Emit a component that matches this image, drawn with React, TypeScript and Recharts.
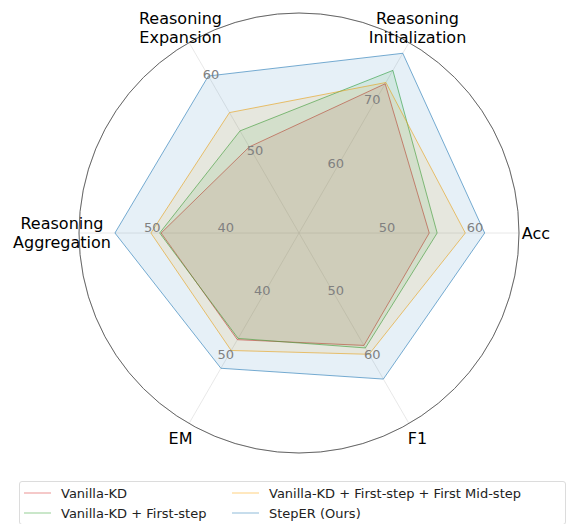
import { RadarChart, Radar, PolarGrid, PolarAngleAxis, PolarRadiusAxis } from 'recharts';

const categories = ['Acc', 'Reasoning\nInitialization', 'Reasoning\nExpansion', 'Reasoning\nAggregation', 'EM', 'F1'];
// each axis has its own range in the original figure
const axisMin = [40, 50, 40, 30, 30, 40];
const axisMax = [65, 80, 65, 60, 60, 70];
const axisTicks = [[50, 60], [60, 70], [50, 60], [40, 50], [40, 50], [50, 60]];

const vanillaKD = [54.8, 73.5, 51.3, 48.8, 46.8, 57.7];
const firstStep = [55.7, 75.6, 53.4, 49.0, 46.6, 58.1];
const firstMid = [58.9, 73.7, 55.8, 50.2, 48.5, 59.1];
const stepER = [61.1, 78.3, 60.6, 55.1, 51.3, 63.0];

const SERIES = [
  { key: 'kd', name: 'Vanilla-KD', values: vanillaKD, color: '#d62728' },
  { key: 'first', name: 'Vanilla-KD + First-step', values: firstStep, color: '#2ca02c' },
  { key: 'mid', name: 'Vanilla-KD + First-step + First Mid-step', values: firstMid, color: '#ffa500' },
  { key: 'steper', name: 'StepER (Ours)', values: stepER, color: '#1f77b4' },
];

const CX = 299;
const CY = 233;
const OUTER = 220;
const LABEL_R = 237;
const FONT = '"DejaVu Sans", sans-serif';

const norm = (v: number, i: number) => (v - axisMin[i]) / (axisMax[i] - axisMin[i]);

// numeric angle axis (index 0..5 over 0..360deg) so ticks and polygons share one scale
const data = categories.map((_, i) => {
  const row: Record<string, any> = { idx: i };
  SERIES.forEach(s => { row[s.key] = norm(s.values[i], i); });
  return row;
});

function AngleTick(props: any) {
  const { payload } = props;
  const index = Number(payload.value);
  const angle = payload.coordinate * Math.PI / 180;
  const cos = Math.cos(angle);
  const sin = -Math.sin(angle);
  const lines = categories[index].split('\n');
  const lx = CX + LABEL_R * cos;
  const ly = CY + LABEL_R * sin;
  const lineH = 19;
  const top = ly - ((lines.length - 1) * lineH) / 2;
  return (
    <g>
      {axisTicks[index].map(t => {
        const r = norm(t, index) * OUTER;
        return (
          <text key={t} x={CX + r * cos} y={CY + r * sin - 6} textAnchor="middle" dominantBaseline="central"
            fontSize={13} fill="#808080" fontFamily={FONT}>
            {t}
          </text>
        );
      })}
      {lines.map((ln, k) => (
        <text key={k} x={lx} y={top + k * lineH} textAnchor="middle" dominantBaseline="central"
          fontSize={16} fill="#000" fontFamily={FONT}>
          {ln}
        </text>
      ))}
    </g>
  );
}

export default function App() {
  return (
    <div style={{ position: 'absolute', left: 0, top: 0, width: 572, height: 524, background: '#fff', fontFamily: FONT }}>
      <RadarChart width={572} height={478} data={data} cx={CX} cy={CY} outerRadius={OUTER}
        startAngle={0} endAngle={360} margin={{ top: 0, right: 0, bottom: 0, left: 0 }}>
        <PolarRadiusAxis domain={[0, 1]} tickCount={6} tick={false} axisLine={false} />
        {SERIES.map(s => (
          <Radar key={s.key} name={s.name} dataKey={s.key} stroke={s.color} strokeOpacity={0.6} strokeWidth={1}
            fill={s.color} fillOpacity={0.11} dot={false} isAnimationActive={false} />
        ))}
        <PolarGrid gridType="circle" stroke="#d9d9d9" strokeOpacity={0.6} strokeWidth={1} />
        <PolarAngleAxis dataKey="idx" type="number" domain={[0, 6]} ticks={[0, 1, 2, 3, 4, 5]}
          tick={<AngleTick />} tickLine={false} axisLineType="circle"
          axisLine={{ stroke: '#666', strokeWidth: 1 }} />
      </RadarChart>

      <div style={{ position: 'absolute', left: 19, top: 481, width: 547, height: 44, border: '1px solid #dcdcdc',
        borderRadius: 3, boxSizing: 'border-box', fontSize: 13, color: '#222' }}>
        {SERIES.map((s, i) => (
          <div key={s.key} style={{ position: 'absolute', left: i < 2 ? 4 : 212, top: i % 2 === 0 ? 2 : 22,
            display: 'flex', alignItems: 'center', height: 18, whiteSpace: 'nowrap' }}>
            <span style={{ display: 'inline-block', width: 27, height: 0, borderTop: `2px solid ${s.color}`,
              opacity: 0.25, marginRight: 10 }} />
            <span>{s.name}</span>
          </div>
        ))}
      </div>
    </div>
  );
}
